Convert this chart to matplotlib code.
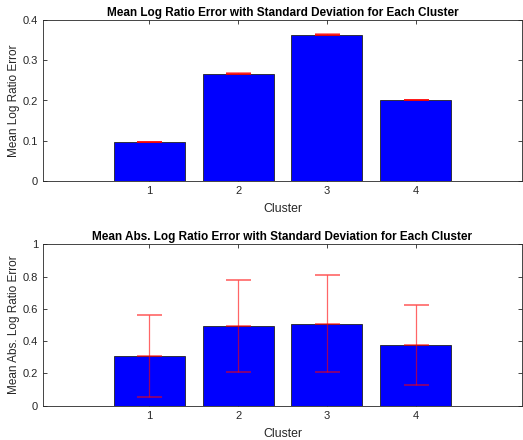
import numpy as np
import matplotlib
matplotlib.use("Agg")
from matplotlib import pyplot as plt

plt.rcParams['font.family'] = ['Liberation Sans', 'DejaVu Sans']

clusters = [1, 2, 3, 4]
mean_log = [0.097, 0.267, 0.363, 0.201]
std_log = [0.001, 0.001, 0.001, 0.001]
mean_abs = [0.310, 0.492, 0.508, 0.376]
std_abs = [0.253, 0.284, 0.300, 0.245]

fig = plt.figure(figsize=(5.23, 4.4), dpi=100)
ax1 = fig.add_axes([43/523, 1 - 181/440, 479/523, 161/440])
ax2 = fig.add_axes([43/523, 1 - 405.7/440, 479/523, 161.4/440])


def draw(ax, means, stds, title, ylabel, ylim, yticks):
    ax.bar(clusters, means, width=0.8, color='#0000ff', edgecolor='#222222', linewidth=0.6, zorder=2)
    ax.errorbar(clusters, means, yerr=stds, fmt='none', ecolor=(1, 0, 0, 0.6),
                elinewidth=0.9, capsize=9, capthick=1.2, zorder=3)
    ax.plot(clusters, means, linestyle='none', marker='_', markersize=18,
            markeredgewidth=1.1, color=(1, 0, 0, 0.7), zorder=3)
    ax.set_xlim(-0.2, 5.2)
    ax.set_ylim(*ylim)
    ax.set_xticks(clusters)
    ax.set_yticks(yticks)
    ax.set_yticklabels([('%g' % t) for t in yticks])
    ax.tick_params(direction='in', length=3, top=True, right=True, labelsize=8,
                   colors='#262626', width=0.6)
    for s in ax.spines.values():
        s.set_color('#262626')
        s.set_linewidth(0.6)
    ax.set_title(title, fontsize=8.5, fontweight='bold', pad=3)
    ax.set_xlabel('Cluster', fontsize=8.8, color='#262626', labelpad=5)
    ax.set_ylabel(ylabel, fontsize=8.5, color='#262626', labelpad=2)


draw(ax1, mean_log, std_log, 'Mean Log Ratio Error with Standard Deviation for Each Cluster',
     'Mean Log Ratio Error', (0, 0.4), [0, 0.1, 0.2, 0.3, 0.4])
draw(ax2, mean_abs, std_abs, 'Mean Abs. Log Ratio Error with Standard Deviation for Each Cluster',
     'Mean Abs. Log Ratio Error', (0, 1), [0, 0.2, 0.4, 0.6, 0.8, 1])

fig.savefig('out.png', dpi=100)
